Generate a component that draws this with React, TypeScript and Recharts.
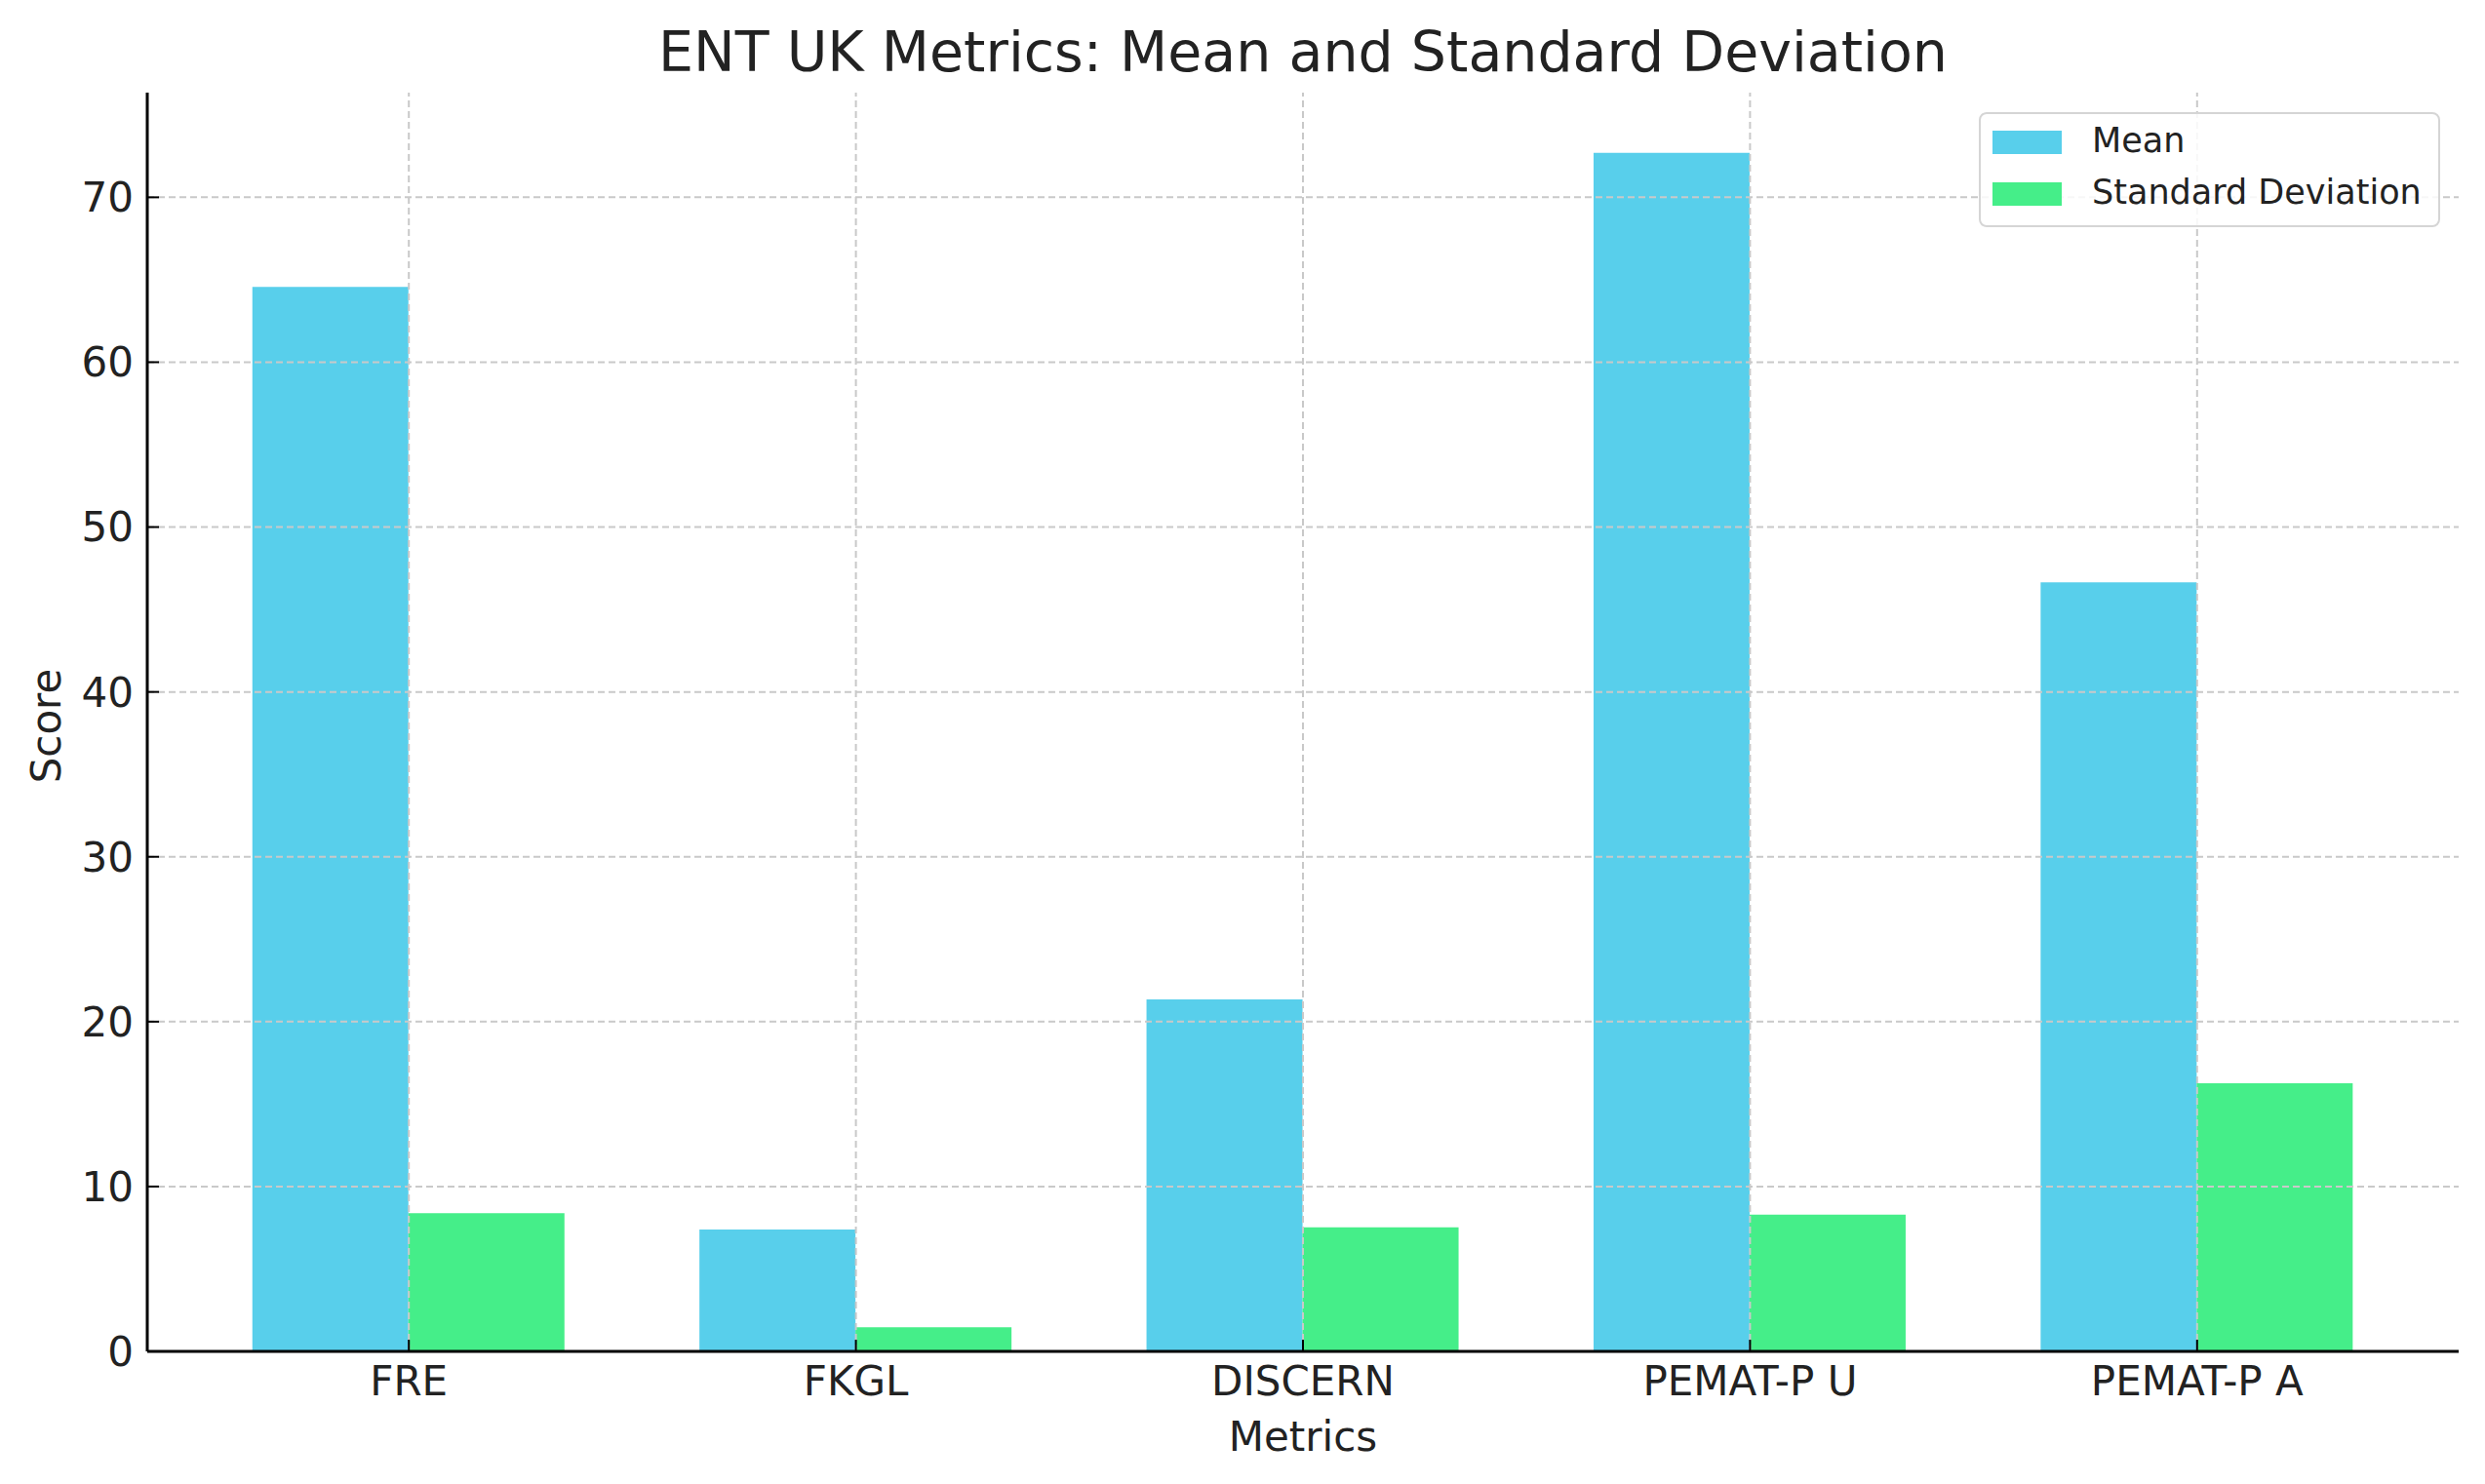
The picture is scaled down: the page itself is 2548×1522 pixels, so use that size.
import { BarChart, Bar, XAxis, YAxis, Legend, ReferenceLine, Label } from "recharts";

const categories = ["FRE", "FKGL", "DISCERN", "PEMAT-P U", "PEMAT-P A"];
const meanValues = [64.56, 7.39, 21.35, 72.7, 46.65];
const sdValues = [8.38, 1.46, 7.53, 8.3, 16.26];
const yTicks = [0, 10, 20, 30, 40, 50, 60, 70];
const gridTicks = [10, 20, 30, 40, 50, 60, 70];

const FONT = "DejaVu Sans";
const MEAN_COLOR = "#58cfeb";
const SD_COLOR = "#45ee89";
const GRID_COLOR = "#c9c9c9";

const series = [
  { key: "mean", name: "Mean", color: MEAN_COLOR },
  { key: "sd", name: "Standard Deviation", color: SD_COLOR },
];

const chartData = categories.map((c, i) => ({
  metric: c,
  mean: meanValues[i],
  sd: sdValues[i],
}));

function LegendBox() {
  return (
    <div
      style={{
        position: "relative",
        width: 473,
        height: 118,
        boxSizing: "border-box",
        border: "2px solid #d5d5d5",
        borderRadius: 8,
        background: "rgba(255,255,255,0.85)",
        fontFamily: FONT,
        fontSize: 35,
        color: "#222",
      }}
    >
      {series.map((s, i) => (
        <div
          key={s.key}
          style={{
            position: "absolute",
            left: 0,
            top: 0 + i * 53,
            height: 53,
            display: "flex",
            alignItems: "center",
            whiteSpace: "nowrap",
          }}
        >
          <div style={{ width: 71, height: 24, marginLeft: 12, marginTop: 4, background: s.color }} />
          <span style={{ marginLeft: 31 }}>{s.name}</span>
        </div>
      ))}
    </div>
  );
}

export default function App() {
  return (
    <div
      style={{
        position: "absolute",
        left: 0,
        top: 0,
        width: 2548,
        height: 1522,
        background: "#fff",
      }}
    >
      <div
        style={{
          position: "absolute",
          left: 0,
          width: 2672,
          top: 25,
          textAlign: "center",
          fontFamily: FONT,
          fontSize: 57,
          lineHeight: "57px",
          color: "#222",
          whiteSpace: "nowrap",
        }}
      >
        ENT UK Metrics: Mean and Standard Deviation
      </div>
      <BarChart
        width={2548}
        height={1522}
        data={chartData}
        margin={{ top: 95, right: 27, bottom: 76, left: 0 }}
        barCategoryGap="15%"
        barGap={0}
      >
        <XAxis
          dataKey="metric"
          height={60}
          padding={{ left: 39, right: 39 }}
          tick={{ fontSize: 42, fill: "#222", fontFamily: FONT }}
          tickSize={-12}
          tickMargin={27}
          tickLine={{ stroke: "#000", strokeWidth: 2 }}
          axisLine={{ stroke: "#000", strokeWidth: 3 }}
          interval={0}
        >
          <Label
            content={({ viewBox }: any) => (
              <text
                x={viewBox.x + viewBox.width / 2}
                y={1488}
                textAnchor="middle"
                fontFamily={FONT}
                fontSize={42}
                fill="#222"
              >
                Metrics
              </text>
            )}
          />
        </XAxis>
        <YAxis
          width={151}
          domain={[0, 76.35]}
          ticks={yTicks}
          interval={0}
          tick={{ fontSize: 42, fill: "#222", fontFamily: FONT }}
          tickSize={-12}
          tickMargin={26}
          tickLine={{ stroke: "#000", strokeWidth: 2 }}
          axisLine={{ stroke: "#000", strokeWidth: 3 }}
        >
          <Label
            content={({ viewBox }: any) => {
              const cy = viewBox.y + viewBox.height / 2 + 4;
              return (
                <text
                  x={62}
                  y={cy}
                  transform={`rotate(-90, 62, ${cy})`}
                  textAnchor="middle"
                  fontFamily={FONT}
                  fontSize={42}
                  fill="#222"
                >
                  Score
                </text>
              );
            }}
          />
        </YAxis>
        <Legend
          layout="vertical"
          align="center"
          verticalAlign="middle"
          wrapperStyle={{ left: 2029, top: 115 }}
          content={() => <LegendBox />}
        />
        {series.map((s) => (
          <Bar key={s.key} dataKey={s.key} name={s.name} fill={s.color} isAnimationActive={false} />
        ))}
        {gridTicks.map((t) => (
          <ReferenceLine
            key={`h${t}`}
            y={t}
            stroke={GRID_COLOR}
            strokeWidth={2}
            strokeDasharray="7 4"
          />
        ))}
        {categories.map((c) => (
          <ReferenceLine
            key={`v${c}`}
            x={c}
            stroke={GRID_COLOR}
            strokeWidth={2}
            strokeDasharray="7 4"
          />
        ))}
      </BarChart>
    </div>
  );
}
